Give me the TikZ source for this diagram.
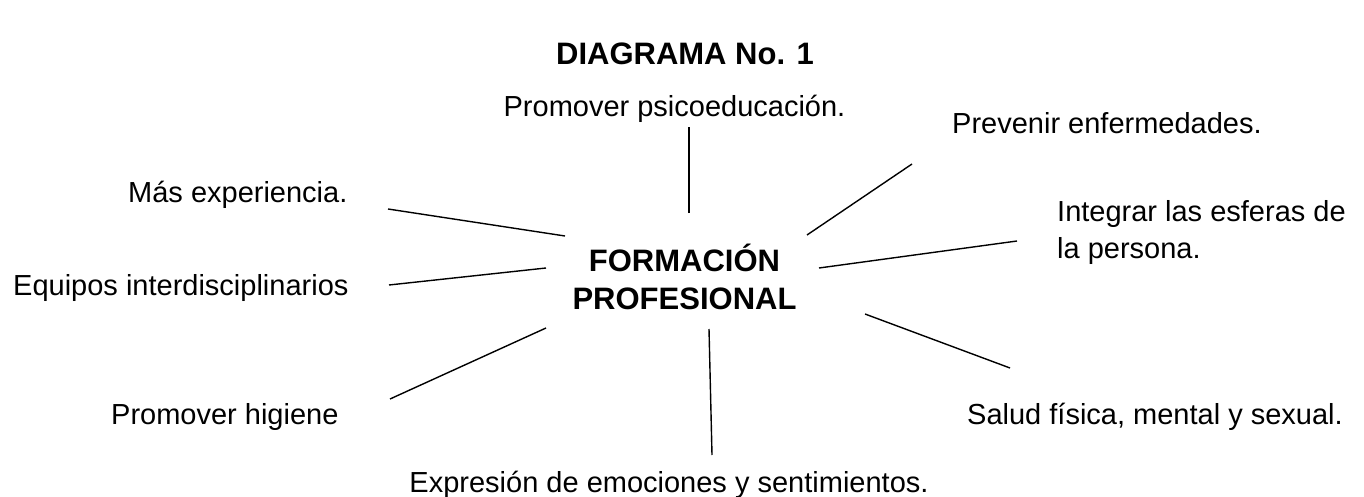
\documentclass[tikz,border=0pt]{standalone}
\usepackage{fontspec}
\setmainfont{Liberation Sans}
\usetikzlibrary{positioning}
\tikzset {
  % labels around the centre
  idea/.style = {font=\fontsize{29}{37}\selectfont, inner sep=0pt},
  % title and centre text
  fuerte/.style = {font=\bfseries\fontsize{31}{38}\selectfont, inner sep=0pt, align=center},
  % the rays
  rayo/.style = {line width=1.4pt},
}
\begin{document}
\begin{tikzpicture}[x=1pt, y=-1pt]
  \useasboundingbox (0,0) rectangle (1364,497);

  \node[fuerte, anchor=base] (tit) at (685,65) {DIAGRAMA No. 1};
  \node[fuerte, anchor=base] (fp) at (684.5,309) {FORMACIÓN\\PROFESIONAL};

  \node[idea, anchor=base] (psico) at (674.5,117) {Promover psicoeducación.};
  \node[idea, anchor=base west] (prev) at (952,134) {Prevenir enfermedades.};
  \node[idea, anchor=base west] (mas) at (128,202) {Más experiencia.};
  \node[idea, anchor=base west, align=left] (integ) at (1057,258) {Integrar las esferas de\\la persona.};
  \node[idea, anchor=base west] (equip) at (13,295) {Equipos interdisciplinarios};
  \node[idea, anchor=base west] (hig) at (111,424) {Promover higiene};
  \node[idea, anchor=base west] (salud) at (967,424) {Salud física, mental y sexual.};
  \node[idea, anchor=base] (expr) at (669,492) {Expresión de emociones y sentimientos.};

  % ends of the rays
  \coordinate (psicoA) at (689,213); \coordinate (psicoB) at (689,127);
  \coordinate (prevA) at (807,235);  \coordinate (prevB) at (912,164);
  \coordinate (integA) at (819,268); \coordinate (integB) at (1017,241);
  \coordinate (saludA) at (865,314); \coordinate (saludB) at (1010,368);
  \coordinate (exprA) at (709,329);  \coordinate (exprB) at (712,455);
  \coordinate (higA) at (546,328);   \coordinate (higB) at (390,399);
  \coordinate (equipA) at (546,268); \coordinate (equipB) at (389,285);
  \coordinate (masA) at (565,236);   \coordinate (masB) at (388,209);

  \foreach \r in {psico, prev, integ, salud, expr, hig, equip, mas}
    \draw[rayo] (\r A) -- (\r B);
\end{tikzpicture}
\end{document}
